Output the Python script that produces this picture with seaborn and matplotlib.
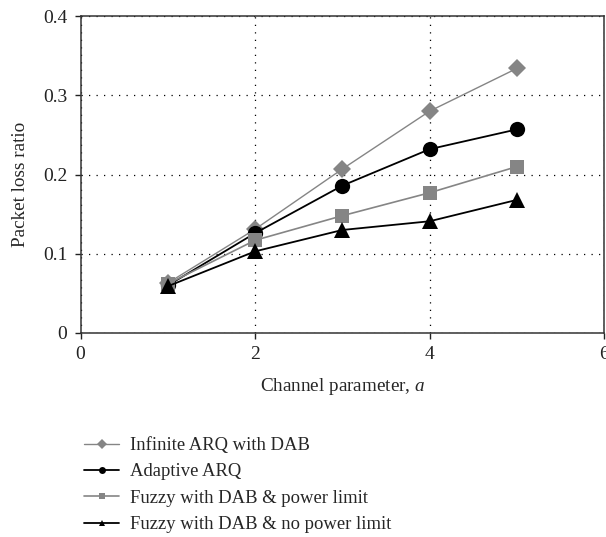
import numpy as np
import pandas as pd
import matplotlib
matplotlib.use("Agg")
import matplotlib.pyplot as plt
import seaborn as sns

# values
channel_a = [1, 2, 3, 4, 5]
infinite_arq = [0.063, 0.131, 0.207, 0.280, 0.334]
adaptive_arq = [0.060, 0.126, 0.186, 0.232, 0.257]
fuzzy_power = [0.062, 0.117, 0.148, 0.177, 0.210]
fuzzy_nopower = [0.059, 0.103, 0.130, 0.141, 0.168]

series_names = [
    "Infinite ARQ with DAB",
    "Adaptive ARQ",
    "Fuzzy with DAB & power limit",
    "Fuzzy with DAB & no power limit",
]
series_values = [infinite_arq, adaptive_arq, fuzzy_power, fuzzy_nopower]

sns.set_style("ticks")
plt.rcParams["font.family"] = ["Liberation Serif", "DejaVu Serif"]
plt.rcParams["mathtext.fontset"] = "custom"
plt.rcParams["mathtext.it"] = "Liberation Serif:italic"

df = pd.DataFrame({
    "a": channel_a * 4,
    "loss": np.concatenate(series_values),
    "series": np.repeat(series_names, len(channel_a)),
})

styles = {
    "Infinite ARQ with DAB": dict(color="#858585", marker="D", ms=9.5, lw=1.0),
    "Adaptive ARQ": dict(color="black", marker="o", ms=11, lw=1.3),
    "Fuzzy with DAB & power limit": dict(color="#858585", marker="s", ms=10.5, lw=1.2),
    "Fuzzy with DAB & no power limit": dict(color="black", marker="^", ms=11.5, lw=1.3),
}

fig = plt.figure(figsize=(6.06, 5.37), dpi=100)
ax = fig.add_axes([0.133, 0.380, 0.864, 0.590])

for name in series_names:
    st = styles[name]
    sns.lineplot(data=df[df["series"] == name], x="a", y="loss", ax=ax,
                 color=st["color"], marker=st["marker"], markersize=st["ms"],
                 linewidth=st["lw"], markeredgewidth=0, label=name, legend=False)

ax.set_xlim(0, 6)
ax.set_ylim(0, 0.4)
ax.set_xticks([0, 2, 4, 6])
ax.set_yticks([0, 0.1, 0.2, 0.3, 0.4])
ax.set_yticklabels(["0", "0.1", "0.2", "0.3", "0.4"])
ax.tick_params(direction="out", length=4.5, width=1, pad=5, labelsize=14, colors="#222222")
ax.grid(True, linestyle=(0, (1, 5)), color="black", linewidth=0.9)
for sp in ax.spines.values():
    sp.set_visible(True)
    sp.set_linewidth(1.1)
    sp.set_color("#333333")

ax.set_xlabel("Channel parameter, $a$", fontsize=13.8, labelpad=9)
ax.set_ylabel("Packet loss ratio", fontsize=13.8)
ax.yaxis.set_label_coords(-0.098, 0.47)

handles, labels = ax.get_legend_handles_labels()
leg = fig.legend(handles, labels, loc="upper left", bbox_to_anchor=(0.127, 0.200),
                 frameon=False, fontsize=13.4, handlelength=1.85, handletextpad=0.6,
                 labelspacing=0.5, borderaxespad=0)
for h in leg.legend_handles:
    h.set_markersize(5)

fig.savefig("out.png", dpi=100)
